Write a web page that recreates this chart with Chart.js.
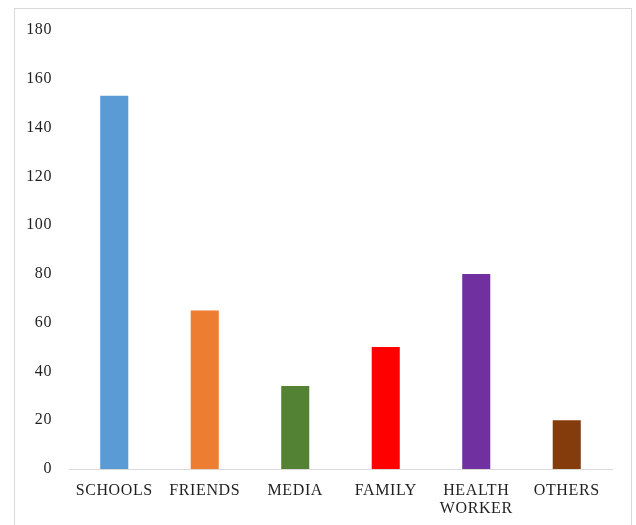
<!DOCTYPE html>
<html>
<head>
<meta charset="utf-8">
<script src="https://cdn.jsdelivr.net/npm/chart.js@4/dist/chart.umd.min.js"></script>
<style>
    body { margin: 0; background: #fff; }
    #frame { position: absolute; left: 14px; top: 8px; width: 616px; height: 530px; border: 1px solid #d9d9d9; }
    #chart { position: absolute; left: 0; top: 0; }
</style>
</head>
<body>
<div id="frame"></div>
<canvas id="chart" width="636" height="525"></canvas>
<script>
const sources = ['SCHOOLS', 'FRIENDS', 'MEDIA', 'FAMILY', ['HEALTH', 'WORKER'], 'OTHERS'];
const counts = [153, 65, 34, 50, 80, 20];
const barColors = ['#5b9bd5', '#ed7d31', '#548235', '#ff0000', '#7030a0', '#843c0c'];
const yTicks = [0, 20, 40, 60, 80, 100, 120, 140, 160, 180];

const spacing = {
    id: 'spacing',
    beforeDraw(chart) {
        chart.ctx.letterSpacing = '0.6px';
    }
};

new Chart(document.getElementById('chart').getContext('2d'), {
    type: 'bar',
    data: {
        labels: sources,
        datasets: [{
            data: counts,
            backgroundColor: barColors,
            borderWidth: 0,
            categoryPercentage: 1,
            barPercentage: 0.31
        }]
    },
    options: {
        responsive: false,
        animation: false,
        layout: { padding: { top: 30, right: 24, bottom: 0, left: 0 } },
        plugins: {
            legend: { display: false },
            tooltip: { enabled: false }
        },
        scales: {
            x: {
                grid: { display: false, drawTicks: false },
                border: { display: true, color: '#d9d9d9', width: 1 },
                ticks: {
                    padding: 13,
                    color: '#1f1f1f',
                    maxRotation: 0,
                    autoSkip: false,
                    font: { family: 'Liberation Serif', size: 16, lineHeight: 1.125 }
                },
                afterFit(scale) { scale.height = 56; }
            },
            y: {
                min: 0,
                max: 180,
                afterBuildTicks(scale) { scale.ticks = yTicks.map(v => ({ value: v })); },
                grid: { display: false, drawTicks: false },
                border: { display: false },
                ticks: {
                    padding: 17,
                    color: '#1f1f1f',
                    font: { family: 'Liberation Serif', size: 16 }
                },
                afterFit(scale) { scale.width = 69; }
            }
        }
    },
    plugins: [spacing]
});
</script>
</body>
</html>
